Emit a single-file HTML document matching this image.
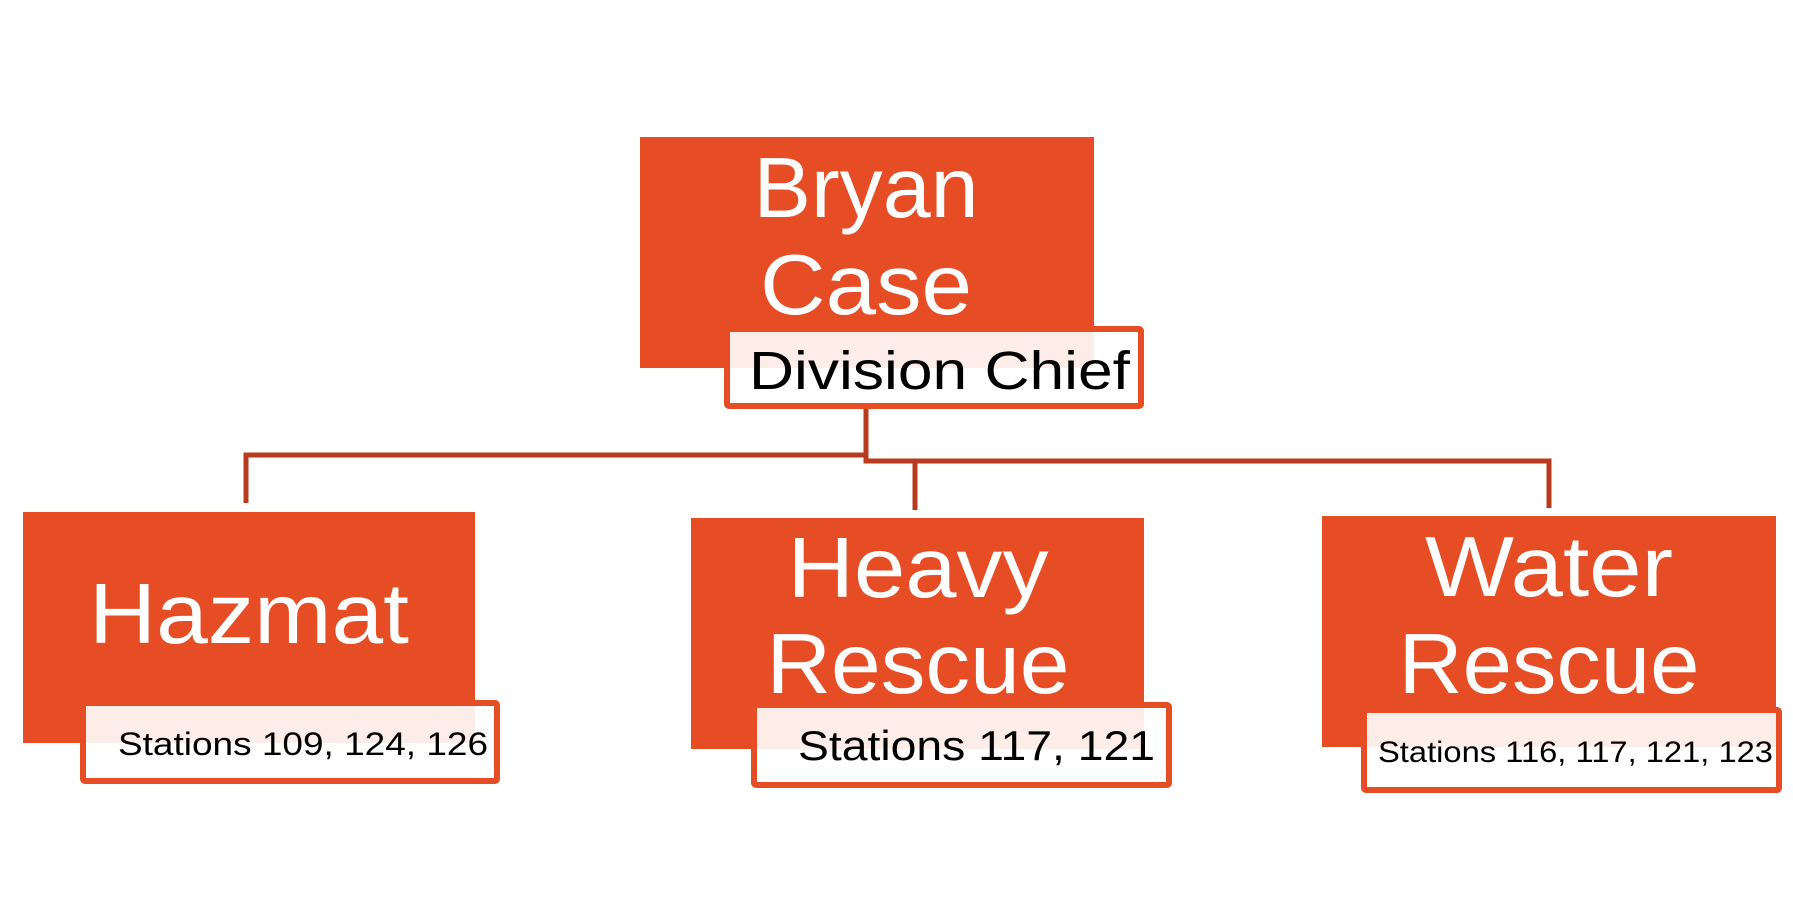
<!DOCTYPE html>
<html><head><meta charset="utf-8"><style>
html,body{margin:0;padding:0;background:#fff;}
svg{display:block;}
text{font-family:"Liberation Sans",sans-serif;}
</style></head><body>
<svg width="1793" height="908" viewBox="0 0 1793 908" xmlns="http://www.w3.org/2000/svg">
<rect width="1793" height="908" fill="#fff"/>
<g fill="none" stroke="#B93B1E" stroke-width="5" stroke-linejoin="miter">
<polyline points="866,409 866,455 246,455 246,503"/>
<polyline points="866,455 866,461 1549,461 1549,508"/>
<line x1="915" y1="461" x2="915" y2="510"/>
</g>
<rect x="640" y="137" width="454" height="231" fill="#E64D25"/>
<text x="866" y="217" font-size="85" fill="#fff" text-anchor="middle" textLength="225" lengthAdjust="spacingAndGlyphs">Bryan</text>
<text x="866" y="314" font-size="85" fill="#fff" text-anchor="middle" textLength="212" lengthAdjust="spacingAndGlyphs">Case</text>
<rect x="727" y="329" width="414" height="77" fill="rgba(255,255,255,0.9)" stroke="#E64D25" stroke-width="6" rx="2"/>
<text x="749" y="389" font-size="54" fill="#000" textLength="381" lengthAdjust="spacingAndGlyphs">Division Chief</text>
<rect x="23" y="512" width="452" height="231" fill="#E64D25"/>
<text x="249" y="643" font-size="85" fill="#fff" text-anchor="middle" textLength="320" lengthAdjust="spacingAndGlyphs">Hazmat</text>
<rect x="83" y="703" width="414" height="78" fill="rgba(255,255,255,0.9)" stroke="#E64D25" stroke-width="6" rx="2"/>
<text x="118" y="755" font-size="32" fill="#000" textLength="370" lengthAdjust="spacingAndGlyphs">Stations 109, 124, 126</text>
<rect x="691" y="518" width="453" height="231" fill="#E64D25"/>
<text x="918" y="597" font-size="85" fill="#fff" text-anchor="middle" textLength="261" lengthAdjust="spacingAndGlyphs">Heavy</text>
<text x="918" y="693" font-size="85" fill="#fff" text-anchor="middle" textLength="303" lengthAdjust="spacingAndGlyphs">Rescue</text>
<rect x="754" y="705" width="415" height="80" fill="rgba(255,255,255,0.9)" stroke="#E64D25" stroke-width="6" rx="2"/>
<text x="798" y="760" font-size="42" fill="#000" textLength="357" lengthAdjust="spacingAndGlyphs">Stations 117, 121</text>
<rect x="1322" y="516" width="454" height="231" fill="#E64D25"/>
<text x="1549" y="596" font-size="85" fill="#fff" text-anchor="middle" textLength="248" lengthAdjust="spacingAndGlyphs">Water</text>
<text x="1549" y="693" font-size="85" fill="#fff" text-anchor="middle" textLength="301" lengthAdjust="spacingAndGlyphs">Rescue</text>
<rect x="1364" y="710" width="415" height="80" fill="rgba(255,255,255,0.9)" stroke="#E64D25" stroke-width="6" rx="2"/>
<text x="1378" y="762" font-size="30" fill="#000" textLength="395" lengthAdjust="spacingAndGlyphs">Stations 116, 117, 121, 123</text>
</svg>
</body></html>
